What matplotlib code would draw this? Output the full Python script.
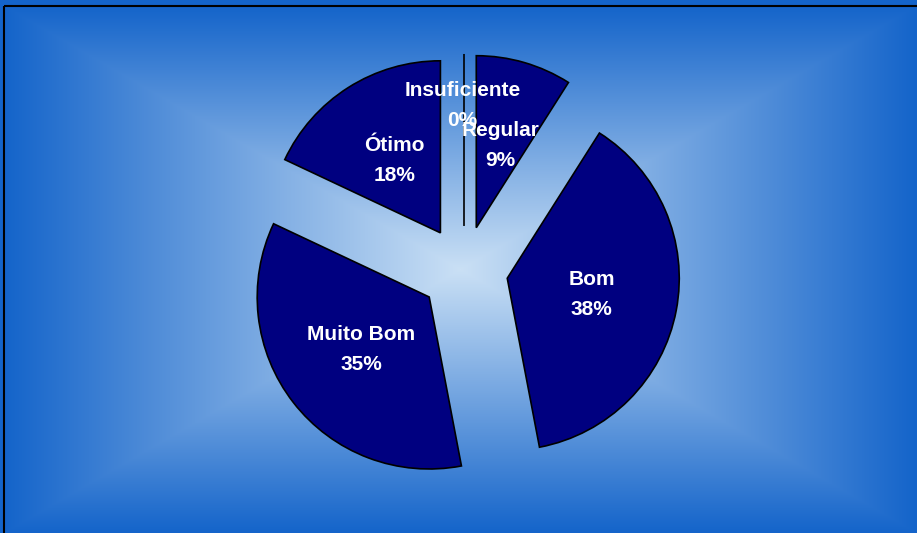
import numpy as np
import matplotlib
matplotlib.use("Agg")
import matplotlib.pyplot as plt
from matplotlib.patches import Rectangle

# data
categories = ["Insuficiente", "Regular", "Bom", "Muito Bom", "Ótimo"]
percentages = [0, 9, 38, 35, 18]

W, H = 917, 533
fig = plt.figure(figsize=(W / 100, H / 100), dpi=100)

# background: rectangular gradient from the centre (light) to the edges (blue)
bg = fig.add_axes([0, 0, 1, 1])
x0, y0 = 4, 6  # top-left corner of the chart frame, pixels
xs = np.arange(W) + 0.5
ys = np.arange(H) + 0.5
cx, cy = (x0 + W) / 2, (y0 + H) / 2
hw, hh = (W - x0) / 2, (H - y0) / 2
gx, gy = np.meshgrid(xs, ys)
t = np.maximum(np.abs(gx - cx) / hw, np.abs(gy - cy) / hh)
t = np.clip(t, 0, 1)
inner = np.array([202, 224, 245]) / 255
outer = np.array([20, 100, 202]) / 255
img = inner[None, None, :] * (1 - t[..., None]) + outer[None, None, :] * t[..., None]
bg.imshow(img, extent=[0, W, H, 0], aspect="auto", interpolation="bilinear")
bg.set_xlim(0, W)
bg.set_ylim(H, 0)
bg.axis("off")
# frame lines (left and top visible)
bg.add_patch(Rectangle((x0, y0), W + 20, H + 20, fill=False, edgecolor="black", linewidth=1.5))

# pie: radius 172 px centred at (464, 270) px
R = 172
pcx, pcy = 464, 270
size = 3 * R
ax = fig.add_axes([(pcx - size / 2) / W, (H - pcy - size / 2) / H, size / W, size / H])
ax.set_facecolor("none")

labels = [f"{c}\n{p}%" for c, p in zip(categories, percentages)]
wedges, texts = ax.pie(
    percentages,
    labels=labels,
    explode=[0.256] * len(percentages),
    startangle=90,
    counterclock=False,
    labeldistance=0.5,
    colors=["#000080"] * len(percentages),
    wedgeprops=dict(edgecolor="black", linewidth=1.2),
    textprops=dict(color="white", fontsize=15, fontweight="bold",
                   family="Liberation Sans", ha="center", va="center",
                   linespacing=1.75),
)

# the empty slice's label sits further out
w0 = wedges[0]
ang = np.deg2rad((w0.theta1 + w0.theta2) / 2)
texts[0].set_position((w0.center[0] - 0.01, w0.center[1] + 0.70 * np.sin(ang)))

ax.set_xlim(-1.5, 1.5)
ax.set_ylim(-1.5, 1.5)
ax.set_aspect("auto")
ax.axis("off")

fig.savefig("out.png", dpi=100)
